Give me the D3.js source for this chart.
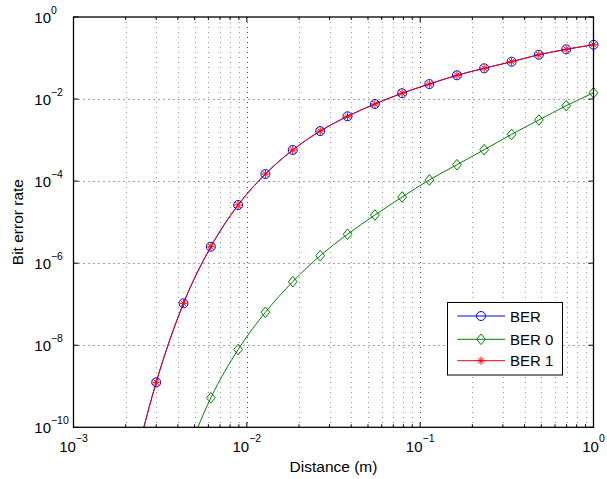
<!DOCTYPE html>
<html>
<head>
<meta charset="utf-8">
<script src="https://cdn.jsdelivr.net/npm/d3@7"></script>
<style>
  body { margin: 0; background: #fff; }
  text { font-family: "Liberation Sans", Arial, Helvetica, sans-serif; fill: #000; }
</style>
</head>
<body>
<svg id="chart" width="607" height="479"></svg>
<script>
// Distances (m) where the markers sit:
var distances = [0.003, 0.00431, 0.0062, 0.00891, 0.0128, 0.0184, 0.0265, 0.0381,
  0.0548, 0.0787, 0.113, 0.163, 0.234, 0.337, 0.484, 0.696, 1.0];

// The curves keep going below the 1e-10 floor before the first marker:
var berDistances = [0.00209].concat(distances);
var ber0Distances = [0.00431].concat(distances.slice(2));

// Bit error rates:
var ber = [3.5e-12, 1.25e-9, 1.05e-7, 2.52e-6, 2.62e-5, 1.49e-4, 5.73e-4, 1.66e-3, 3.8e-3,
  7.58e-3, 1.39e-2, 2.32e-2, 3.8e-2, 5.62e-2, 8.14e-2, 0.1205, 0.163, 0.211];
var ber0 = [1.3e-11, 5.24e-10, 7.87e-9, 6.35e-8, 3.54e-7, 1.52e-6, 5.06e-6, 1.49e-5,
  4.1e-5, 1.07e-4, 2.51e-4, 5.83e-4, 1.38e-3, 3.09e-3, 6.89e-3, 1.42e-2];
var ber1 = [3.5e-12, 1.25e-9, 1.05e-7, 2.52e-6, 2.62e-5, 1.49e-4, 5.73e-4, 1.66e-3, 3.8e-3,
  7.58e-3, 1.39e-2, 2.32e-2, 3.8e-2, 5.62e-2, 8.14e-2, 0.1205, 0.163, 0.211];

// Tick exponents:
var xTickExponents = [-3, -2, -1, 0];
var yTickExponents = [0, -2, -4, -6, -8, -10];

var seriesNames = ["BER", "BER 0", "BER 1"];

var svg = d3.select("#chart");

var plot = { left: 73.5, right: 593.5, top: 17, bottom: 427.3 };

var x = d3.scaleLog().domain([1e-3, 1]).range([plot.left, plot.right]);
var y = d3.scaleLog().domain([1e-10, 1]).range([plot.bottom, plot.top]);

// Minor ticks of the x axis (2..9 within each decade):
var xMinor = [];
xTickExponents.slice(0, -1).forEach(function(e) {
  for (var k = 2; k <= 9; k++) xMinor.push(k * Math.pow(10, e));
});

// The grid:
var grid = svg.append("g");

grid.selectAll("line.minor-x")
  .data(xMinor)
  .enter().append("line")
  .attr("x1", function(d) { return Math.round(x(d)) + 0.5; })
  .attr("x2", function(d) { return Math.round(x(d)) + 0.5; })
  .attr("y1", plot.top)
  .attr("y2", plot.bottom)
  .attr("stroke", "#999")
  .attr("stroke-dasharray", "1,4");

grid.selectAll("line.major-x")
  .data(xTickExponents.slice(1, -1))
  .enter().append("line")
  .attr("x1", function(d) { return Math.round(x(Math.pow(10, d))) + 0.5; })
  .attr("x2", function(d) { return Math.round(x(Math.pow(10, d))) + 0.5; })
  .attr("y1", plot.top)
  .attr("y2", plot.bottom)
  .attr("stroke", "#444")
  .attr("stroke-dasharray", "1,4");

grid.selectAll("line.major-y")
  .data(yTickExponents.slice(1, -1))
  .enter().append("line")
  .attr("x1", plot.left)
  .attr("x2", plot.right)
  .attr("y1", function(d) { return Math.round(y(Math.pow(10, d))) + 0.5; })
  .attr("y2", function(d) { return Math.round(y(Math.pow(10, d))) + 0.5; })
  .attr("stroke", "#444")
  .attr("stroke-dasharray", "1,4");

// Inward ticks on all four sides (box on):
var ticks = svg.append("g").attr("stroke", "#000").attr("stroke-width", 1);

xTickExponents.forEach(function(e) {
  var px = x(Math.pow(10, e));
  ticks.append("line").attr("x1", px).attr("x2", px).attr("y1", plot.bottom).attr("y2", plot.bottom - 5);
  ticks.append("line").attr("x1", px).attr("x2", px).attr("y1", plot.top).attr("y2", plot.top + 5);
});
xMinor.forEach(function(v) {
  var px = x(v);
  ticks.append("line").attr("x1", px).attr("x2", px).attr("y1", plot.bottom).attr("y2", plot.bottom - 3);
  ticks.append("line").attr("x1", px).attr("x2", px).attr("y1", plot.top).attr("y2", plot.top + 3);
});
yTickExponents.forEach(function(e) {
  var py = y(Math.pow(10, e));
  ticks.append("line").attr("x1", plot.left).attr("x2", plot.left + 5).attr("y1", py).attr("y2", py);
  ticks.append("line").attr("x1", plot.right).attr("x2", plot.right - 5).attr("y1", py).attr("y2", py);
});

// The curves, clipped to the plot area:
svg.append("defs").append("clipPath").attr("id", "plot-clip")
  .append("rect")
  .attr("x", plot.left).attr("y", plot.top)
  .attr("width", plot.right - plot.left).attr("height", plot.bottom - plot.top);

var line = d3.line()
  .x(function(d) { return x(d[0]); })
  .y(function(d) { return y(d[1]); })
  .curve(d3.curveMonotoneX);

var series = [
  { name: seriesNames[0], xs: berDistances, ys: ber, color: "#0000ff", marker: "circle" },
  { name: seriesNames[1], xs: ber0Distances, ys: ber0, color: "#008000", marker: "diamond" },
  { name: seriesNames[2], xs: berDistances, ys: ber1, color: "#ff0000", marker: "star" }
];

var curves = svg.append("g").attr("clip-path", "url(#plot-clip)");

series.forEach(function(s) {
  s.points = s.xs.map(function(d, i) { return [d, s.ys[i]]; });
  curves.append("path")
    .attr("d", line(s.points))
    .attr("fill", "none")
    .attr("stroke", s.color)
    .attr("stroke-width", 1);
});

/** Draws one marker centered on (cx, cy) */
function drawMarker(g, type, cx, cy, color) {
  if (type == "circle") {
    g.append("circle").attr("cx", cx).attr("cy", cy).attr("r", 4.5)
      .attr("fill", "none").attr("stroke", color).attr("stroke-width", 1);
  } else if (type == "diamond") {
    g.append("path")
      .attr("d", "M" + cx + "," + (cy - 5.3) + "L" + (cx + 4.4) + "," + cy +
        "L" + cx + "," + (cy + 5.3) + "L" + (cx - 4.4) + "," + cy + "Z")
      .attr("fill", "none").attr("stroke", color).attr("stroke-width", 1);
  } else {
    // MATLAB's '*' marker: a plus and a cross on top of each other:
    var r = 4, q = 2.9;
    g.append("path")
      .attr("d", "M" + (cx - r) + "," + cy + "L" + (cx + r) + "," + cy +
        "M" + cx + "," + (cy - r) + "L" + cx + "," + (cy + r) +
        "M" + (cx - q) + "," + (cy - q) + "L" + (cx + q) + "," + (cy + q) +
        "M" + (cx - q) + "," + (cy + q) + "L" + (cx + q) + "," + (cy - q))
      .attr("fill", "none").attr("stroke", color).attr("stroke-width", 1);
  }
}

// Markers are only drawn for points inside the axes (not clipped):
var markers = svg.append("g");
series.forEach(function(s) {
  s.points.filter(function(p) { return p[1] >= 1e-10 && p[0] >= 1e-3; })
    .forEach(function(p) { drawMarker(markers, s.marker, x(p[0]), y(p[1]), s.color); });
});

// Axes box:
svg.append("rect")
  .attr("x", plot.left).attr("y", plot.top)
  .attr("width", plot.right - plot.left).attr("height", plot.bottom - plot.top)
  .attr("fill", "none").attr("stroke", "#000").attr("stroke-width", 1.3);

// Tick labels as 10 with a superscript exponent:
function exponentText(e) { return e < 0 ? "\u2212" + (-e) : "" + e; }

xTickExponents.forEach(function(e) {
  var t = svg.append("text")
    .attr("x", x(Math.pow(10, e)))
    .attr("y", 452)
    .attr("text-anchor", "middle")
    .style("font-size", "15px");
  t.append("tspan").text("10");
  t.append("tspan").attr("dy", -10).style("font-size", "10.5px").text(exponentText(e));
});

yTickExponents.forEach(function(e) {
  var t = svg.append("text")
    .attr("x", 34.3)
    .attr("y", y(Math.pow(10, e)) + 5.5)
    .style("font-size", "15px");
  t.append("tspan").text("10");
  t.append("tspan").attr("dy", -8.5).style("font-size", "10.5px").text(exponentText(e));
});

// Axis titles:
svg.append("text")
  .attr("x", (plot.left + plot.right) / 2)
  .attr("y", 471.5)
  .attr("text-anchor", "middle")
  .style("font-size", "15.5px")
  .text("Distance (m)");

svg.append("text")
  .attr("transform", "translate(23.3," + (plot.top + plot.bottom) / 2 + ") rotate(-90)")
  .attr("text-anchor", "middle")
  .style("font-size", "15.5px")
  .text("Bit error rate");

// The legend:
var legend = svg.append("g");
legend.append("rect")
  .attr("x", 447.5).attr("y", 302.5)
  .attr("width", 115).attr("height", 72.5)
  .attr("fill", "#fff").attr("stroke", "#000").attr("stroke-width", 1);

var legendRows = [316, 339.3, 360.7];
series.forEach(function(s, i) {
  var cy = legendRows[i];
  legend.append("line")
    .attr("x1", 457.3).attr("x2", 505)
    .attr("y1", cy).attr("y2", cy)
    .attr("stroke", s.color).attr("stroke-width", 1);
  drawMarker(legend, s.marker, 481, cy, s.color);
  legend.append("text")
    .attr("x", 510).attr("y", cy + 5.5)
    .style("font-size", "15px")
    .text(s.name);
});
</script>
</body>
</html>
